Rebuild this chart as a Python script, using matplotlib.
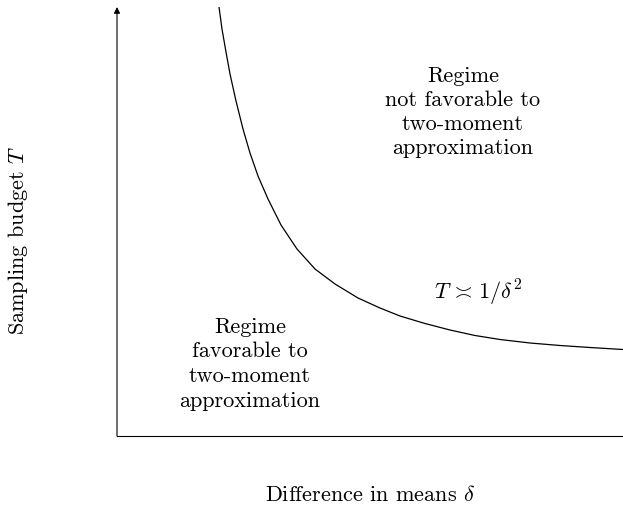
import matplotlib
matplotlib.use("Agg")
import matplotlib.pyplot as plt

# sketch of the sampling budget needed as a function of the gap in means
delta = [1.02, 1.05, 1.09, 1.13, 1.19, 1.26, 1.33, 1.41, 1.51, 1.64, 1.80, 1.98,
         2.18, 2.41, 2.63, 2.83, 3.08, 3.33, 3.58, 3.83, 4.13, 4.43, 4.73, 5.06]
budget = [4.29, 4.07, 3.84, 3.62, 3.35, 3.07, 2.83, 2.60, 2.37, 2.11, 1.87, 1.67,
          1.52, 1.38, 1.28, 1.20, 1.125, 1.06, 1.005, 0.965, 0.93, 0.905, 0.885, 0.865]

x_max, y_max = 5.06, 4.29

plt.rcParams["font.family"] = "cmr10"
plt.rcParams["mathtext.fontset"] = "cm"
plt.rcParams["axes.formatter.use_mathtext"] = True

fig = plt.figure(figsize=(6.23, 5.08), dpi=100)
ax = fig.add_axes([117 / 623, 72 / 508, 506 / 623, 429 / 508])

ax.plot(delta, budget, color="black", lw=0.9, solid_capstyle="butt")
ax.set_xlim(0, x_max)
ax.set_ylim(0, y_max)

for side in ["top", "right", "left"]:
    ax.spines[side].set_visible(False)
ax.spines["bottom"].set_linewidth(0.8)
ax.set_xticks([])
ax.set_yticks([])

# vertical axis with arrow head
ax.annotate("", xy=(0, 1), xytext=(0, 0), xycoords="axes fraction",
            arrowprops=dict(arrowstyle="-|>", color="black", lw=0.8,
                            mutation_scale=9, shrinkA=0, shrinkB=0))

fs = 16
ax.text(3.46, 3.24, "Regime\nnot favorable to\ntwo-moment\napproximation",
        ha="center", va="center", fontsize=fs, linespacing=1.3)
ax.text(1.33, 0.72, "Regime\nfavorable to\ntwo-moment\napproximation",
        ha="center", va="center", fontsize=fs, linespacing=1.33)
ax.text(3.61, 1.43, r"$T\,\asymp\,1/\delta^2$", ha="center", va="center", fontsize=fs)

ax.set_xlabel(r"Difference in means $\delta$", fontsize=fs, labelpad=35)
ax.set_ylabel(r"Sampling budget $T$", fontsize=fs)
ax.yaxis.set_label_coords(-0.172, 0.457)

fig.savefig("out.png", dpi=100)
